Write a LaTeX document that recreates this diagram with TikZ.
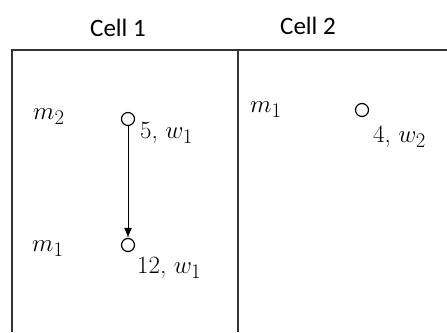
\documentclass[tikz,border=0pt]{standalone}
\usepackage{fontspec}
\usepackage{tikz}
\usetikzlibrary{arrows.meta, positioning, shapes}
\newfontfamily\headfont{Carlito}

\begin{document}
\begin{tikzpicture}[
    x=1pt, y=1pt,
    cellhead/.style={font=\headfont\fontsize{25}{30}\selectfont, inner sep=0pt},
    mass/.style={font=\Huge, anchor=west, inner sep=0pt},
    pt/.style={circle, draw, line width=1.2pt, minimum size=13pt, inner sep=0pt},
    frame/.style={line width=1.5pt, black!80},
    arrow/.style={-{Latex[length=10pt, width=8pt]}, line width=1pt}
]
    \useasboundingbox (0, 0) rectangle (447, 332);

    % Headers
    \node[cellhead] (head1) at (118, 304) {Cell 1};
    \node[cellhead] (head2) at (308, 306) {Cell 2};

    % Frame
    \draw[frame] (12, 0) -- (12, 282) -- (447, 282);
    \draw[frame] (238, 0) -- (238, 282);

    % Cell 1
    \node[mass] (m2a) at (33, 215) {$m_2$};
    \node[mass] (m1a) at (32, 83) {$m_1$};
    \node[pt] (top) at (128, 213) {};
    \node[pt] (bot) at (128, 87) {};
    \node[mass] (toplab) at (140, 199) {5, $w_1$};
    \node[mass] (botlab) at (137, 64) {12, $w_1$};

    % Cell 2
    \node[mass] (m1b) at (250, 222) {$m_1$};
    \node[pt] (right) at (362, 222) {};
    \node[mass] (rightlab) at (373, 195) {4, $w_2$};

    % Arrows
    \draw[arrow] (top) -- (bot);
\end{tikzpicture}
\end{document}
